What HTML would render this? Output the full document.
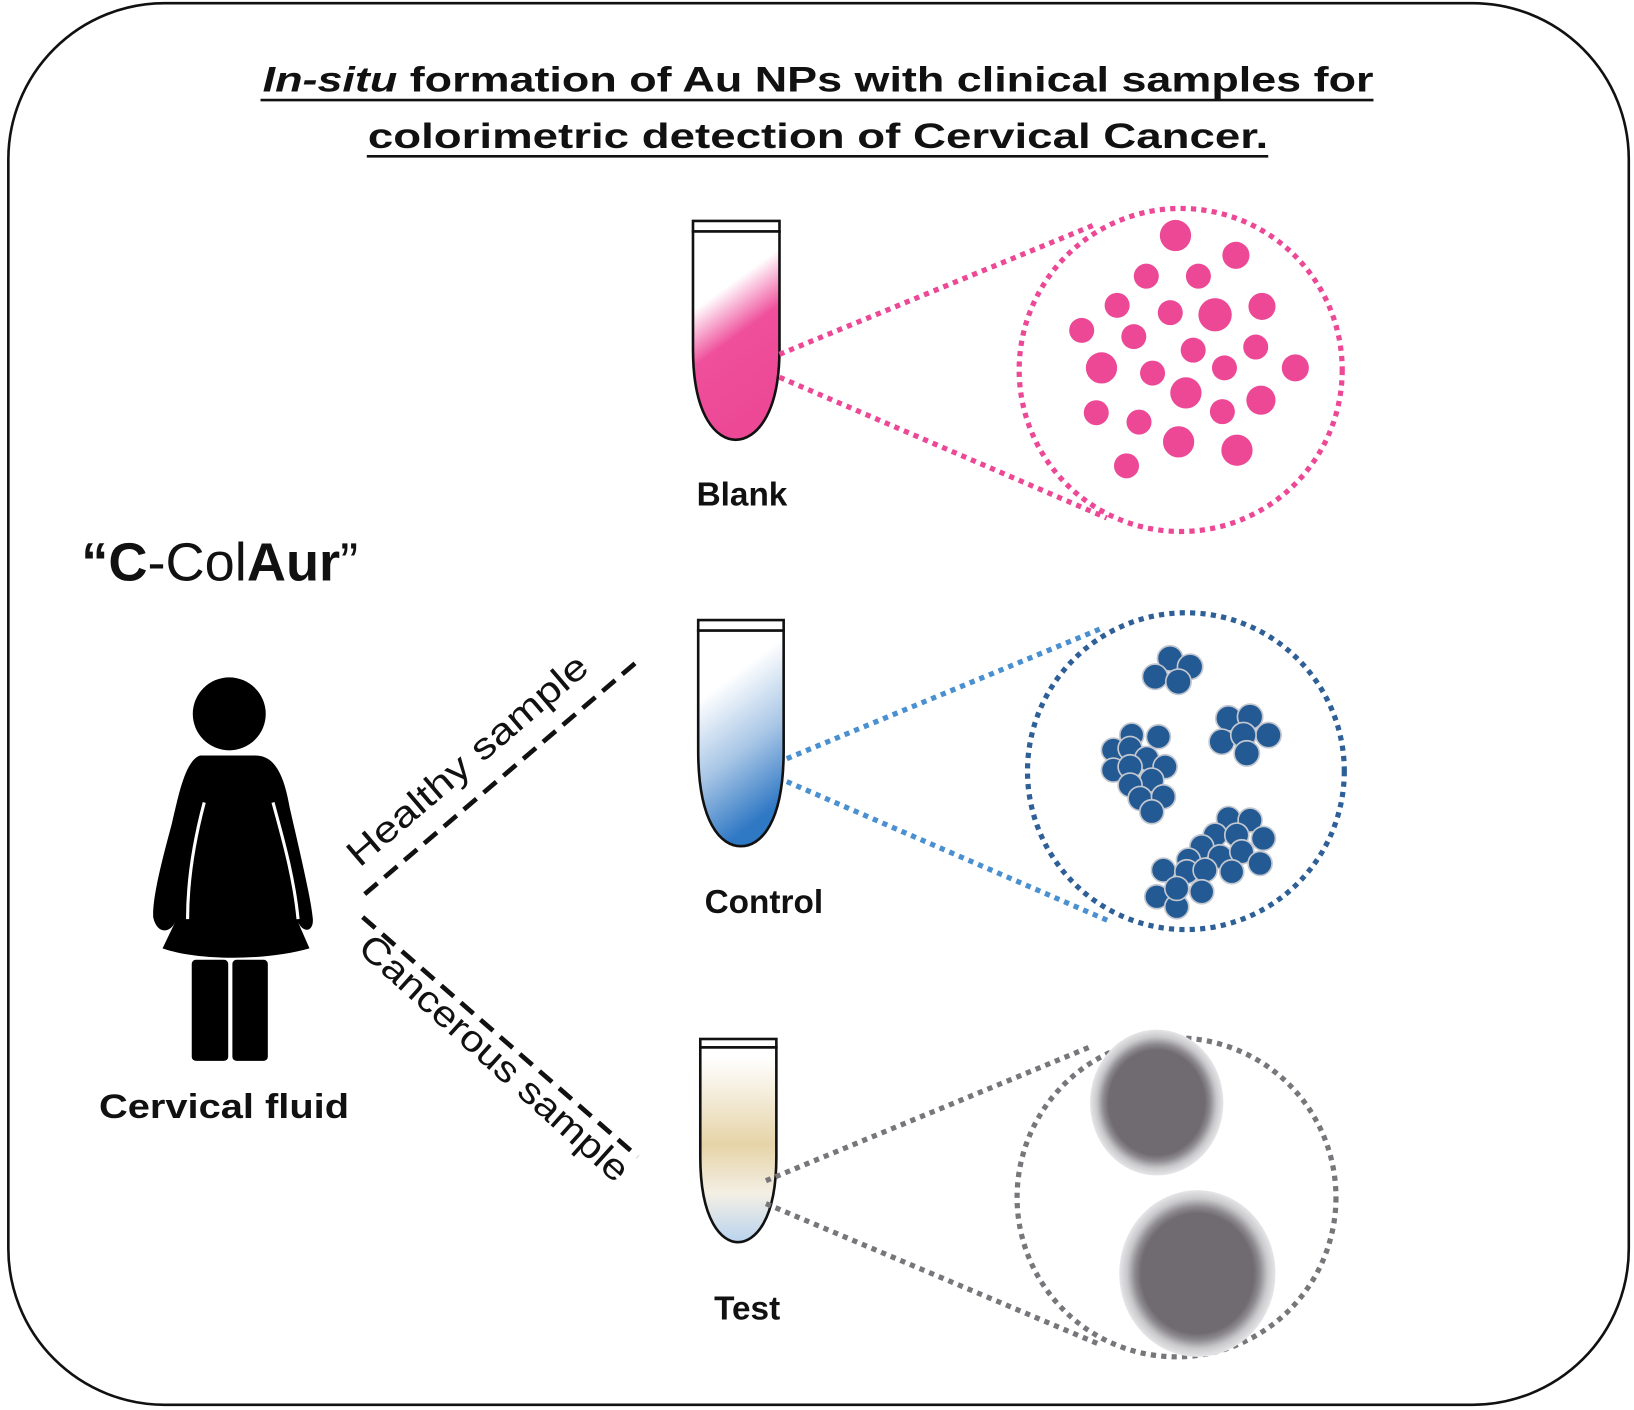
<!DOCTYPE html>
<html><head><meta charset="utf-8"><style>html,body{margin:0;padding:0;background:#fff}svg{display:block}</style></head>
<body>
<svg width="1634" height="1410" viewBox="0 0 1568 1353" xmlns="http://www.w3.org/2000/svg" font-family="'Liberation Sans', sans-serif">
<defs>
<linearGradient id="gp" x1="0" y1="0" x2="0.3" y2="1"><stop offset="0.35" stop-color="#fff"/><stop offset="0.6" stop-color="#ef4f9b"/><stop offset="1" stop-color="#ec4896"/></linearGradient>
<linearGradient id="gb" x1="0" y1="0" x2="0.3" y2="1"><stop offset="0.3" stop-color="#fff"/><stop offset="0.65" stop-color="#a8c6e6"/><stop offset="1" stop-color="#2f78c4"/></linearGradient>
<linearGradient id="gt" x1="0" y1="0" x2="0" y2="1"><stop offset="0.05" stop-color="#fff"/><stop offset="0.5" stop-color="#e6d4a8"/><stop offset="0.75" stop-color="#f4efe4"/><stop offset="1" stop-color="#b9d3ee"/></linearGradient>
<radialGradient id="gg"><stop offset="0.72" stop-color="#6f6b70"/><stop offset="0.8" stop-color="#8e8b90"/><stop offset="0.9" stop-color="#c9c9cb"/><stop offset="1" stop-color="#e6e6e8"/></radialGradient>
</defs>
<rect x="8" y="3" width="1555" height="1345" rx="150" fill="#fff" stroke="#111" stroke-width="2.5"/>
<g font-weight="bold" font-size="34" fill="#111" text-anchor="middle">
<text x="785" y="88" textLength="1066" lengthAdjust="spacingAndGlyphs"><tspan font-style="italic">In-situ</tspan> formation of Au NPs with clinical samples for</text>
<text x="785" y="142" textLength="864" lengthAdjust="spacingAndGlyphs">colorimetric detection of Cervical Cancer.</text>
</g>
<line x1="250" y1="96" x2="1318" y2="96" stroke="#111" stroke-width="2.5"/>
<line x1="352" y1="150" x2="1217" y2="150" stroke="#111" stroke-width="2.5"/>

<text x="78" y="557" font-size="52" fill="#111"><tspan font-weight="bold">“C</tspan>-Col<tspan font-weight="bold">Aur</tspan>”</text>

<!-- woman -->
<circle cx="220" cy="685" r="35" fill="#000"/>
<path d="M192,725 C178,730 172,760 165,790 C157,820 146,860 147,880 C150,895 162,897 168,885 L156,910 C190,922 255,922 297,910 L286,885 C292,897 302,893 300,880 C298,860 286,810 278,775 C272,740 262,725 245,725 Z" fill="#000"/>
<path d="M196,770 C188,800 180,840 180,882" stroke="#fff" stroke-width="3" fill="none"/>
<path d="M262,770 C270,800 282,840 286,882" stroke="#fff" stroke-width="3" fill="none"/>
<rect x="184" y="921" width="35" height="97" rx="4" fill="#000"/>
<rect x="223" y="921" width="34" height="97" rx="4" fill="#000"/>
<text x="215" y="1073" font-size="33" font-weight="bold" text-anchor="middle" fill="#111" textLength="240" lengthAdjust="spacingAndGlyphs">Cervical fluid</text>

<!-- dashed branches -->
<line x1="350" y1="858" x2="610" y2="636" stroke="#111" stroke-width="4.5" stroke-dasharray="16,9"/>
<line x1="348" y1="880" x2="612" y2="1110" stroke="#111" stroke-width="4.5" stroke-dasharray="16,9"/>
<text font-size="35" fill="#111" transform="translate(345,833) rotate(-40.5)" textLength="292" lengthAdjust="spacingAndGlyphs">Healthy sample</text>
<text font-size="35" fill="#111" transform="translate(342,912) rotate(42)" textLength="335" lengthAdjust="spacingAndGlyphs">Cancerous sample</text>

<!-- tubes -->
<g stroke="#111" stroke-width="2.5">
<path d="M665,222 L665,335 C665,400 688,422 706,422 C724,422 748,400 748,335 L748,222 Z" fill="url(#gp)"/>
<rect x="665" y="212" width="83" height="10" fill="#fff"/>
<path d="M670,605 L670,720 C670,790 692,812 711,812 C730,812 752,790 752,720 L752,605 Z" fill="url(#gb)"/>
<rect x="670" y="595" width="82" height="10" fill="#fff"/>
<path d="M672,1005 L672,1110 C672,1172 693,1192 708,1192 C724,1192 745,1172 745,1110 L745,1005 Z" fill="url(#gt)"/>
<rect x="672" y="997" width="73" height="8" fill="#fff"/>
</g>
<g font-size="32" font-weight="bold" fill="#111" text-anchor="middle">
<text x="712" y="485">Blank</text>
<text x="733" y="876">Control</text>
<text x="717" y="1266">Test</text>
</g>

<!-- dotted callouts -->
<g fill="none" stroke-width="5" stroke-dasharray="5,5">
<g stroke="#ec4896">
<circle cx="1133" cy="355" r="155"/>
<line x1="748" y1="340" x2="1052" y2="215"/>
<line x1="748" y1="362" x2="1062" y2="497"/>
</g>
<g stroke="#2f5f97">
<circle cx="1138" cy="740" r="152"/>
</g>
<g stroke="#4a90d0">
<line x1="755" y1="728" x2="1057" y2="603"/>
<line x1="755" y1="750" x2="1067" y2="885"/>
</g>
<g stroke="#77767a">
<circle cx="1129" cy="1149" r="153"/>
<line x1="735" y1="1133" x2="1045" y2="1005"/>
<line x1="735" y1="1155" x2="1055" y2="1290"/>
</g>
</g>

<!-- pink NPs -->
<g fill="#ec4896">
<circle cx="1128" cy="226" r="15"/><circle cx="1186" cy="245" r="13"/><circle cx="1100" cy="265" r="12"/><circle cx="1150" cy="265" r="12"/>
<circle cx="1072" cy="293" r="12"/><circle cx="1123" cy="300" r="12"/><circle cx="1166" cy="302" r="16"/><circle cx="1211" cy="294" r="13"/>
<circle cx="1038" cy="317" r="12"/><circle cx="1088" cy="323" r="12"/><circle cx="1145" cy="336" r="12"/><circle cx="1205" cy="333" r="12"/>
<circle cx="1057" cy="353" r="15"/><circle cx="1106" cy="358" r="12"/><circle cx="1175" cy="353" r="12"/><circle cx="1243" cy="353" r="13"/>
<circle cx="1138" cy="377" r="15"/><circle cx="1210" cy="384" r="14"/><circle cx="1052" cy="396" r="12"/><circle cx="1093" cy="405" r="12"/>
<circle cx="1173" cy="395" r="12"/><circle cx="1131" cy="424" r="15"/><circle cx="1187" cy="432" r="15"/><circle cx="1081" cy="447" r="12"/>
</g>

<!-- blue aggregates -->
<g transform="scale(0.9597)" fill="#235a94" stroke="#c3c7cf" stroke-width="5">
<g transform="translate(1020,630) scale(0.3333)">
<circle cx="450" cy="85" r="38"/><circle cx="510" cy="110" r="38"/><circle cx="405" cy="140" r="38"/><circle cx="475" cy="155" r="38"/>
<circle cx="625" cy="265" r="38"/><circle cx="690" cy="260" r="38"/><circle cx="745" cy="315" r="38"/><circle cx="605" cy="335" r="38"/><circle cx="670" cy="315" r="38"/><circle cx="680" cy="370" r="38"/>
<circle cx="335" cy="315" r="36"/><circle cx="415" cy="320" r="36"/><circle cx="280" cy="360" r="36"/><circle cx="330" cy="355" r="36"/><circle cx="380" cy="385" r="36"/><circle cx="435" cy="410" r="36"/><circle cx="280" cy="420" r="36"/><circle cx="330" cy="410" r="36"/><circle cx="395" cy="450" r="36"/><circle cx="330" cy="465" r="36"/><circle cx="360" cy="505" r="36"/><circle cx="430" cy="500" r="36"/><circle cx="395" cy="545" r="36"/>
<circle cx="625" cy="565" r="36"/><circle cx="690" cy="570" r="36"/><circle cx="585" cy="615" r="36"/><circle cx="545" cy="650" r="36"/><circle cx="650" cy="615" r="36"/><circle cx="730" cy="625" r="36"/><circle cx="600" cy="680" r="36"/><circle cx="665" cy="665" r="36"/><circle cx="720" cy="700" r="36"/><circle cx="505" cy="690" r="36"/><circle cx="430" cy="720" r="36"/><circle cx="500" cy="725" r="36"/><circle cx="555" cy="720" r="36"/><circle cx="635" cy="725" r="36"/><circle cx="410" cy="800" r="36"/><circle cx="470" cy="830" r="36"/><circle cx="545" cy="785" r="36"/><circle cx="470" cy="775" r="36"/>
</g>
</g>

<!-- gray particles -->
<ellipse cx="1110" cy="1058" rx="64" ry="70" fill="url(#gg)"/>
<ellipse cx="1149" cy="1222" rx="75" ry="80" fill="url(#gg)"/>
</svg>
</body></html>
